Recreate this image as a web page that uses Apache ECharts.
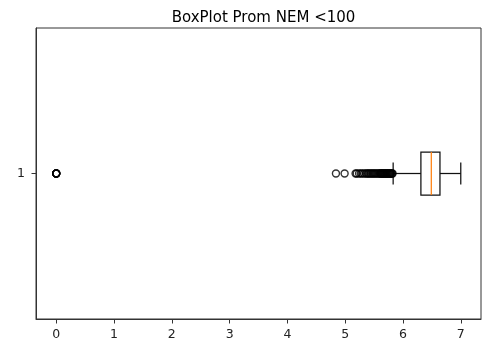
<!DOCTYPE html>
<html>
<head>
<meta charset="utf-8">
<script src="https://cdn.jsdelivr.net/npm/echarts@6/dist/echarts.min.js"></script>
<style>html,body{margin:0;padding:0;background:#fff}#c{width:486px;height:349px}</style>
</head>
<body>
<div id="c"></div>
<script>
const categories = ['1'];
// [lower whisker, Q1, median, Q3, upper whisker]
const boxStats = [5.83, 6.31, 6.49, 6.64, 7.0];
const outliers = [0, 0, 0, 0, 0, 0,
  4.84, 4.99, 5.18, 5.20, 5.24, 5.27, 5.30, 5.33, 5.36, 5.38, 5.40, 5.42, 5.44, 5.46, 5.48,
  5.50, 5.52, 5.54, 5.56, 5.58, 5.60, 5.61, 5.62, 5.63, 5.64, 5.65, 5.66, 5.67, 5.68, 5.69,
  5.70, 5.71, 5.72, 5.73, 5.74, 5.75, 5.76, 5.77, 5.78, 5.79, 5.80, 5.81, 5.82];
const xTicks = [0, 1, 2, 3, 4, 5, 6, 7];
const titleText = 'BoxPlot Prom NEM <100';

const font = 'DejaVu Sans';
const chart = echarts.init(document.getElementById('c'));
chart.setOption({
  animation: false,
  title: {
    text: titleText, left: 258.5, textAlign: 'center', top: 6,
    textStyle: { fontFamily: font, fontSize: 15, fontWeight: 'normal', color: '#000' }
  },
  grid: { left: 36, right: 5, top: 28, bottom: 30, show: true, borderColor: '#333', borderWidth: 1, backgroundColor: 'transparent' },
  xAxis: {
    type: 'value', min: -0.35, max: 7.35,
    splitLine: { show: false },
    axisLine: { show: true, lineStyle: { color: '#333', width: 1 } },
    axisTick: { show: true, length: 4.5, customValues: xTicks, lineStyle: { color: '#333' } },
    axisLabel: { customValues: xTicks, margin: 9, fontFamily: font, fontSize: 12.5, color: '#222' }
  },
  yAxis: {
    type: 'category', data: categories,
    axisLine: { show: true, onZero: false, lineStyle: { color: '#333', width: 1 } },
    axisTick: { show: true, length: 4.5, alignWithLabel: true, lineStyle: { color: '#333' } },
    axisLabel: { margin: 11, fontFamily: font, fontSize: 12.5, color: '#222' },
    splitLine: { show: false }
  },
  series: [
    {
      type: 'custom',
      data: [[boxStats[0], boxStats[1], boxStats[2], boxStats[3], boxStats[4], 0]],
      encode: { x: [0, 1, 2, 3, 4], y: 5 },
      renderItem: function (params, api) {
        const cat = api.value(5);
        const cy = api.coord([api.value(0), cat])[1];
        const xs = [0, 1, 2, 3, 4].map(i => api.coord([api.value(i), cat])[0]);
        const half = 21.5, capHalf = 11;
        const ls = { stroke: '#111', lineWidth: 1.25, fill: null };
        return {
          type: 'group',
          children: [
            { type: 'rect', shape: { x: xs[1], y: cy - half, width: xs[3] - xs[1], height: 2 * half }, style: { stroke: '#111', lineWidth: 1.25, fill: 'none' } },
            { type: 'line', shape: { x1: xs[0], y1: cy, x2: xs[1], y2: cy }, style: ls },
            { type: 'line', shape: { x1: xs[3], y1: cy, x2: xs[4], y2: cy }, style: ls },
            { type: 'line', shape: { x1: xs[0], y1: cy - capHalf, x2: xs[0], y2: cy + capHalf }, style: ls },
            { type: 'line', shape: { x1: xs[4], y1: cy - capHalf, x2: xs[4], y2: cy + capHalf }, style: ls },
            { type: 'line', shape: { x1: xs[2], y1: cy - half, x2: xs[2], y2: cy + half }, style: { stroke: '#ff7f0e', lineWidth: 1.25 } }
          ]
        };
      }
    },
    {
      type: 'scatter',
      data: outliers.map(v => [v, 0]),
      symbol: 'circle', symbolSize: 7,
      itemStyle: { color: 'rgba(0,0,0,0)', borderColor: '#000', borderWidth: 1.4 }
    }
  ]
});
</script>
</body>
</html>
